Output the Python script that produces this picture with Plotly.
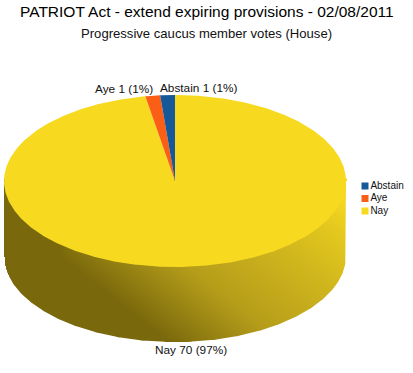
import numpy as np
import plotly.graph_objects as go

categories = ["Abstain", "Aye", "Nay"]
votes = [1, 1, 70]
colors = ["#175899", "#fb5f16", "#f7da20"]
main_title = "PATRIOT Act - extend expiring provisions - 02/08/2011"
sub_title = "Progressive caucus member votes (House)"

W, H = 413, 373
CX, CY, RX, RY, DEPTH = 175, 181, 171, 86, 75

total = sum(votes)
shares = [v / total * 360 for v in votes]


def arc(a0, a1, n=240, dy=0.0, grow=0.0):
    t = np.radians(np.linspace(a0, a1, n))
    return CX + (RX + grow) * np.sin(t), CY + dy - (RY + grow) * np.cos(t)


fig = go.Figure()

# side wall: a shaded field clipped to the extruded silhouette
xs = np.arange(CX - RX - 1, CX + RX + 2, 1.0)
ys = np.arange(CY - 2, CY + RY + DEPTH + 3, 1.0)
gx, gy = np.meshgrid(xs, ys)
t = 0.62 * gx - 0.78 * gy
shade = np.interp(t, [-162, -121, -92, -17, 30, 58], [0, 0.3, 0.5, 0.72, 0.87, 1.0])
shade = np.minimum(shade, np.clip((gx - 62) / 75, 0, 1))
rel = np.clip((gx - CX) / RX, -1, 1)
lower = CY + DEPTH + RY * np.sqrt(1 - rel ** 2)
shade[(gy > lower + 0.5) | (np.abs(gx - CX) > RX + 0.5)] = np.nan
fig.add_trace(go.Heatmap(
    x=xs, y=ys, z=shade, zmin=0, zmax=1, showscale=False, hoverinfo="skip",
    colorscale=[[0, "#7a690c"], [0.5, "#b59d1a"], [1, "#f5d820"]],
))

# soften the stair-stepped silhouette of the wall
ox, oy = arc(90, 270, dy=DEPTH, grow=1.0)
ox = np.r_[CX + RX + 1, ox, CX - RX - 1]
oy = np.r_[CY, oy, CY]
fig.add_trace(go.Scatter(x=ox, y=oy, mode="lines", line=dict(color="white", width=2),
                         hoverinfo="skip", showlegend=False))

# top face wedges, clockwise; the Nay wedge starts at 12 o'clock
starts = {}
cursor = 0.0
for name, share in zip(categories[::-1], shares[::-1]):
    starts[name] = (cursor, cursor + share)
    cursor += share
for name, col in zip(categories[::-1], colors[::-1]):
    a0, a1 = starts[name]
    ex, ey = arc(a0, a1, n=max(6, int(a1 - a0) * 2))
    fig.add_trace(go.Scatter(
        x=np.r_[CX, ex, CX], y=np.r_[CY, ey, CY], mode="lines", fill="toself",
        fillcolor=col, line=dict(color=col, width=0), hoverinfo="skip", showlegend=False,
    ))

# legend, drawn with tight row spacing
LEG_X, LEG_Y, LEG_STEP = 365, 186, 12.5
fig.add_trace(go.Scatter(
    x=[LEG_X] * 3, y=[LEG_Y + i * LEG_STEP for i in range(3)],
    mode="markers+text", text=categories, textposition="middle right",
    textfont=dict(size=10, color="#111111"),
    marker=dict(symbol="square", size=7, color=colors),
    hoverinfo="skip", showlegend=False,
))

# slice labels
anchors = {"Abstain": ("left", -10, -7), "Aye": ("right", 2, -7), "Nay": ("center", 1, 8)}
for name, v in zip(categories, votes):
    a0, a1 = starts[name]
    mid = (a0 + a1) / 2
    side = DEPTH if 90 < mid < 270 else 0
    px, py = arc(mid, mid, n=1, dy=side)
    xa, dx, dy = anchors[name]
    fig.add_annotation(x=px[0], y=py[0], text=f"{name} {v} ({round(v / total * 100)}%)",
                       showarrow=False, xanchor=xa, yanchor="middle", xshift=dx, yshift=-dy,
                       font=dict(size=11.8, color="#111111"))

fig.add_annotation(xref="paper", yref="paper", x=206.5 / W, y=1 - 11 / H, text=main_title,
                   showarrow=False, xanchor="center", yanchor="middle",
                   font=dict(size=15.5, color="#000000"))
fig.add_annotation(xref="paper", yref="paper", x=206.5 / W, y=1 - 33 / H, text=sub_title,
                   showarrow=False, xanchor="center", yanchor="middle",
                   font=dict(size=13.1, color="#111111"))

fig.update_layout(
    width=W, height=H, margin=dict(l=0, r=0, t=0, b=0), showlegend=False,
    paper_bgcolor="white", plot_bgcolor="white",
    font=dict(family="Liberation Sans, Arial, sans-serif"),
    xaxis=dict(range=[0, W], visible=False, fixedrange=True),
    yaxis=dict(range=[H, 0], visible=False, fixedrange=True),
)
fig.write_html("out.html", config={"displayModeBar": False},
               post_script="document.body.style.margin='0';document.documentElement.style.overflow='hidden';")
